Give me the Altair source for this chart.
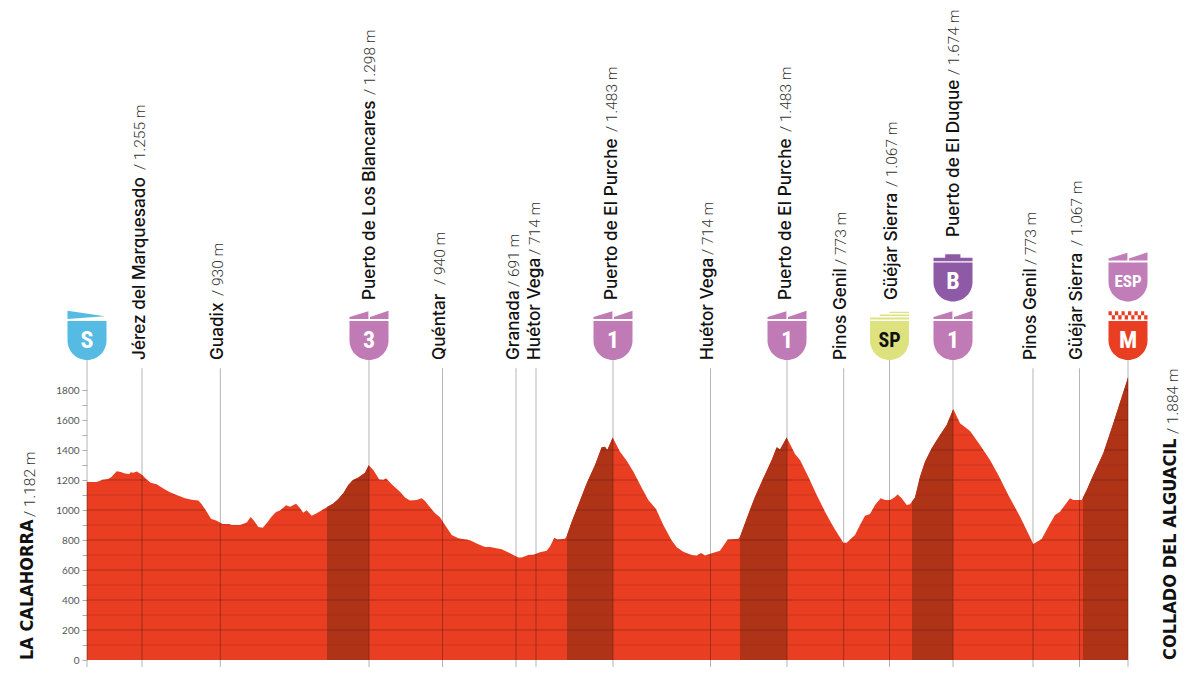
import altair as alt
import numpy as np
import pandas as pd

# distance along the stage (1 unit = 1 px of the original drawing), elevation in m
distancia = [
    0, 9.7, 14.7, 21.3, 24.7, 29.7, 33.7, 38, 42.3, 43.7, 46.3, 49.7, 54.7, 59.7, 63.7, 69.7, 76.3, 83, 89.7, 98,
    104.7, 111.3, 114.7, 119.7, 124, 129.7, 135.7, 142.3, 144.7, 153, 159.7, 163.7, 167, 171.3, 175.7, 179.7,
    184.7, 189, 193, 199, 203, 209, 212.3, 216.3, 219.7, 224.7, 229.7, 239.7, 246.3, 251.3, 256.3, 261.3, 265.7,
    271.3, 278, 281.7, 286.3, 292.3, 296.3, 299, 304.7, 313, 318, 323, 329.7, 334.7, 338, 343, 348, 353, 358,
    364.7, 371.3, 383, 391.3, 398, 403, 414.7, 423, 431.3, 434.7, 441.3, 446.3, 453, 459.7, 463, 467.3, 470.3,
    478, 479.7, 484.7, 491.3, 499.7, 508, 514.7, 518, 520.3, 525.7, 533, 539.7, 546.3, 554.7, 561.3, 569, 576.3,
    584.7, 589.7, 596.3, 604.7, 609.7, 614, 618, 624.7, 633, 640.7, 651.3, 653, 659.7, 668, 676.3, 684.7, 689.7,
    693, 699.7, 708, 713, 721.3, 729.7, 738, 746.3, 756.3, 759.7, 768, 773, 778, 783, 788, 793.7, 798, 803, 807,
    810.7, 814.7, 819.7, 823, 828, 833, 838, 844.7, 853, 859.7, 866.3, 873, 883, 893, 903, 911.3, 921.3, 933,
    946.3, 954.7, 961.3, 968, 973, 978.7, 983, 986.3, 994.7, 999.7, 1006.3, 1016.3, 1026.3, 1041,
]
altitud = [
    1187, 1187, 1200, 1207, 1222, 1258, 1253, 1244, 1240, 1251, 1249, 1256, 1236, 1204, 1182, 1171, 1144, 1118, 1100, 1078,
    1069, 1064, 1038, 989, 942, 929, 907, 907, 900, 900, 916, 953, 929, 887, 882, 911,
    956, 987, 996, 1031, 1022, 1042, 1018, 982, 998, 962, 978, 1018, 1044, 1073, 1111, 1167, 1198,
    1216, 1249, 1298, 1267, 1204, 1200, 1211, 1171, 1122, 1084, 1064, 1067, 1078, 1060, 1018, 978, 951, 900,
    833, 811, 798, 771, 753, 753, 738, 711, 684, 684, 700, 702, 718, 729, 756, 815, 804,
    809, 827, 922, 1033, 1178, 1300, 1418, 1422, 1400, 1483, 1389, 1329, 1256, 1149, 1067, 1007, 900,
    796, 751, 722, 700, 696, 713, 696, 711, 729, 804, 809, 822, 944, 1089, 1211, 1333, 1418,
    1404, 1483, 1373, 1333, 1222, 1100, 989, 889, 782, 782, 833, 900, 962, 973, 1033, 1078, 1067, 1067, 1082,
    1104, 1078, 1033, 1038, 1084, 1222, 1322, 1411, 1500, 1567, 1674, 1578, 1527, 1433, 1333, 1233, 1100, 956,
    773, 807, 889, 967, 989, 1040, 1078, 1067, 1067, 1133, 1233, 1378, 1578, 1884,
]

# climbs (start, summit)
subidas = [(240, 282), (480, 526), (653, 700), (825, 866), (996, 1041)]

# places along the route
lugares = ["Jérez del Marquesado", "Guadix", "Puerto de Los Blancares", "Quéntar", "Granada", "Huétor Vega",
           "Puerto de El Purche", "Huétor Vega", "Puerto de El Purche", "Pinos Genil", "Güéjar Sierra",
           "Puerto de El Duque", "Pinos Genil", "Güéjar Sierra"]
alturas = ["/ 1.255 m", "/ 930 m", "/ 1.298 m", "/ 940 m", "/ 691 m", "/ 714 m", "/ 1.483 m", "/ 714 m", "/ 1.483 m",
           "/ 773 m", "/ 1.067 m", "/ 1.674 m", "/ 773 m", "/ 1.067 m"]
km_lugares = [55, 133.3, 282, 355.5, 429, 449, 526, 623.5, 700, 756.7, 802.5, 866, 946, 992.5]
# sideways shift of each label from its line
corrimiento = [-2.5, -2.5, 0.5, -3, -2.5, -1.5, -1, -3, -1, -2.5, 2.5, 1, -2.5, -2.5]
# how far up the page the height starts after the name
salto = [190, 64, 205, 75, 73, 105, 168, 105, 168, 95, 113, 162, 95, 114]
# bottom of the label, in metres on the same scale
base = [2000, 2000, 2400, 2000, 2000, 2000, 2400, 2000, 2400, 2000, 2400, 2820, 2000, 2000]

ROJO = "#E93E22"
ROJO_OSCURO = "#AF3317"

perfil = pd.DataFrame({"km": distancia, "alt": altitud})

# horizontal lines only under the profile, every 100 m
filas = []
for nivel in range(100, 1900, 100):
    dentro = np.array(altitud) >= nivel
    inicio = None
    for i in range(len(distancia)):
        if dentro[i] and inicio is None:
            inicio = distancia[0] if i == 0 else float(np.interp(nivel, [altitud[i - 1], altitud[i]], [distancia[i - 1], distancia[i]]))
        if inicio is not None and (i == len(distancia) - 1 or not dentro[i + 1]):
            if i == len(distancia) - 1:
                fin = distancia[i]
            else:
                fin = float(np.interp(nivel, [altitud[i + 1], altitud[i]], [distancia[i + 1], distancia[i]]))
            filas.append({"km": inicio, "km2": fin, "alt": nivel, "par": nivel % 200 == 0})
            inicio = None
rejilla_df = pd.DataFrame(filas)

# the darker climbs
trozos = []
for n, (a, b) in enumerate(subidas):
    xs = [a] + [d for d in distancia if a < d < b] + [b]
    ys = np.interp(xs, distancia, altitud)
    trozos.append(pd.DataFrame({"km": xs, "alt": ys, "subida": n}))
subidas_df = pd.concat(trozos, ignore_index=True)

x = alt.X("km:Q", scale=alt.Scale(domain=[0, 1041], nice=False, zero=False), axis=None)
y = alt.Y(
    "alt:Q",
    stack=None,
    scale=alt.Scale(domain=[0, 1800], nice=False),
    axis=alt.Axis(
        values=list(range(0, 1900, 100)),
        labelExpr="datum.value % 200 == 0 ? datum.value : ''",
        title=None,
        domain=False,
        grid=False,
        ticks=True,
        tickSize=5,
        tickColor="#999999",
        tickWidth=0.8,
        labelColor="#555555",
        labelFont="Lato",
        labelFontSize=10,
        labelPadding=3,
    ),
)

area = alt.Chart(perfil).mark_area(color=ROJO, interpolate="linear").encode(x=x, y=y)
oscuro = alt.Chart(subidas_df).mark_area(color=ROJO_OSCURO, interpolate="linear").encode(x=x, y=y, detail="subida:N")
rejilla = alt.Chart(rejilla_df).mark_rule(color="#4A1208").encode(
    x=x, x2="km2:Q", y=y,
    strokeWidth=alt.condition("datum.par", alt.value(0.7), alt.value(0.5)),
    opacity=alt.condition("datum.par", alt.value(0.55), alt.value(0.3)),
)

# vertical lines: grey above the profile and below the axis, dark through the red
verticales_km = [0] + km_lugares + [1041]
verticales_top = [2130] + [2130 if b > 2000 else 1945 for b in base] + [2130]
filas_v = []
for k, t in zip(verticales_km, verticales_top):
    h = float(np.interp(k, distancia, altitud))
    filas_v.append({"km": k, "alt": t, "alt2": h, "tipo": "fuera"})
    filas_v.append({"km": k, "alt": h, "alt2": 0, "tipo": "dentro"})
    filas_v.append({"km": k, "alt": 0, "alt2": -67, "tipo": "fuera"})
lineas_df = pd.DataFrame(filas_v)
lineas_fuera = alt.Chart(lineas_df[lineas_df.tipo == "fuera"].reset_index(drop=True)).mark_rule(color="#B5B5B5", strokeWidth=1).encode(
    x=x, y=y, y2="alt2:Q")
lineas_dentro = alt.Chart(lineas_df[lineas_df.tipo == "dentro"].reset_index(drop=True)).mark_rule(color="#5A1E12", strokeWidth=1, opacity=0.5).encode(
    x=x, y=y, y2="alt2:Q")

# place labels: name, then height
km_texto = [k + c for k, c in zip(km_lugares, corrimiento)]
nombres = pd.DataFrame({"km": km_texto, "alt": base, "txt": lugares})
alturas_df = pd.DataFrame({
    "km": km_texto,
    "alt": [b + s / 0.15 for b, s in zip(base, salto)],
    "txt": alturas,
})
txt_nombres = alt.Chart(nombres).mark_text(
    angle=270, align="left", baseline="middle", font="Inter", fontWeight=500, fontSize=17.2, color="#111111",
).encode(x=x, y=y, text="txt:N")
txt_alturas = alt.Chart(alturas_df).mark_text(
    angle=270, align="left", baseline="middle", font="Roboto", fontWeight=300, fontSize=15.5, color="#333333",
).encode(x=x, y=y, text="txt:N")

# shields
CUERPO = "M-1,-1 L1,-1 L1,0 C1,0.55 0.55,1 0,1 C-0.55,1 -1,0.55 -1,0 Z"
MONTE = "M-1,-1.1 L-1,-1.2 L-0.03,-1.5 L-0.03,-1.1 Z M0.05,-1.1 L0.05,-1.2 L1,-1.52 L1,-1.1 Z"
SALIDA = "M-1,-1.52 L0.92,-1.25 L-1,-1.1 Z"
PRIMA = "M0,-1.48 L1,-1.48 L1,-1.41 L0,-1.41 Z M-0.5,-1.33 L1,-1.33 L1,-1.26 L-0.5,-1.26 Z M-1,-1.18 L1,-1.18 L1,-1.08 L-1,-1.08 Z"
BONUS = "M-1,-1.25 L-0.4,-1.25 L-0.4,-1.42 L0.38,-1.42 L0.38,-1.25 L1,-1.25 L1,-1.07 L-1,-1.07 Z"
META = ""
for col in range(6):
    izq = -1 + col / 3
    META += f"M{izq:.2f},-1.5 L{izq + 1 / 6:.2f},-1.5 L{izq + 1 / 6:.2f},-1.3 L{izq:.2f},-1.3 Z "
    izq2 = izq + 1 / 6
    META += f"M{izq2:.2f},-1.3 L{izq2 + 1 / 6:.2f},-1.3 L{izq2 + 1 / 6:.2f},-1.08 L{izq2:.2f},-1.08 Z "
META = META.strip()

escudos = pd.DataFrame({
    "km": [0, 282, 526, 700, 802.5, 866, 866, 1041, 1041],
    "alt": [2130, 2130, 2130, 2130, 2130, 2130, 2520, 2520, 2130],
    "letra": ["S", "3", "1", "1", "SP", "1", "B", "ESP", "M"],
    "color": ["#55BBE3", "#C07AB5", "#C07AB5", "#C07AB5", "#DDE27F", "#C07AB5", "#8E5AA6", "#C17DB8", ROJO],
    "deco": [SALIDA, MONTE, MONTE, MONTE, PRIMA, MONTE, BONUS, MONTE, META],
    "tinta": ["white", "white", "white", "white", "#111111", "white", "white", "white", "white"],
    "cuerpo": [24, 24, 24, 24, 20, 24, 24, 17, 24],
})
capas_escudo = []
for _, fila in escudos.iterrows():
    uno = pd.DataFrame({"km": [fila["km"]], "alt": [fila["alt"]]})
    base_e = alt.Chart(uno).mark_point(
        shape=CUERPO, filled=True, size=1521, opacity=1, color=fila["color"], strokeWidth=0
    ).encode(x=x, y=y)
    deco = alt.Chart(uno).mark_point(
        shape=fila["deco"], filled=True, size=1521, opacity=1, color=fila["color"], strokeWidth=0
    ).encode(x=x, y=y)
    capas_escudo += [base_e, deco]
letras = alt.Chart(escudos[["km", "alt", "letra", "tinta", "cuerpo"]]).mark_text(
    font="Roboto Condensed, Roboto", fontWeight="bold", baseline="middle", align="center",
).encode(
    x=x, y=y, text="letra:N",
    color=alt.Color("tinta:N", scale=None),
    size=alt.Size("cuerpo:Q", scale=None),
)

# start and finish names
salida_t = alt.Chart(pd.DataFrame({"km": [-59.5], "alt": [0], "txt": ["LA CALAHORRA"]})).mark_text(
    angle=270, align="left", baseline="middle", font="DejaVu Sans Condensed, Lato", fontWeight="bold", fontSize=18, color="#111111",
).encode(x=x, y=y, text="txt:N")
salida_a = alt.Chart(pd.DataFrame({"km": [-57], "alt": [953], "txt": ["/ 1.182 m"]})).mark_text(
    angle=270, align="left", baseline="middle", font="Roboto", fontWeight=300, fontSize=15.5, color="#333333",
).encode(x=x, y=y, text="txt:N")
meta_t = alt.Chart(pd.DataFrame({"km": [1084], "alt": [0], "txt": ["COLLADO DEL ALGUACIL"]})).mark_text(
    angle=270, align="left", baseline="middle", font="DejaVu Sans Condensed, Lato", fontWeight="bold", fontSize=18, color="#111111",
).encode(x=x, y=y, text="txt:N")
meta_a = alt.Chart(pd.DataFrame({"km": [1086], "alt": [1507], "txt": ["/ 1.884 m"]})).mark_text(
    angle=270, align="left", baseline="middle", font="Roboto", fontWeight=300, fontSize=15.5, color="#333333",
).encode(x=x, y=y, text="txt:N")

chart = alt.layer(
    lineas_fuera, area, oscuro, rejilla, lineas_dentro, *capas_escudo, letras,
    txt_nombres, txt_alturas, salida_t, salida_a, meta_t, meta_a,
).properties(
    width=1041,
    height=270,
    background="white",
    autosize=alt.AutoSizeParams(type="none"),
    padding={"left": 79, "top": 382, "right": 64, "bottom": 7},
).configure_view(
    stroke=None
)

chart.save("out.html", embed_options={"renderer": "svg", "actions": False})
